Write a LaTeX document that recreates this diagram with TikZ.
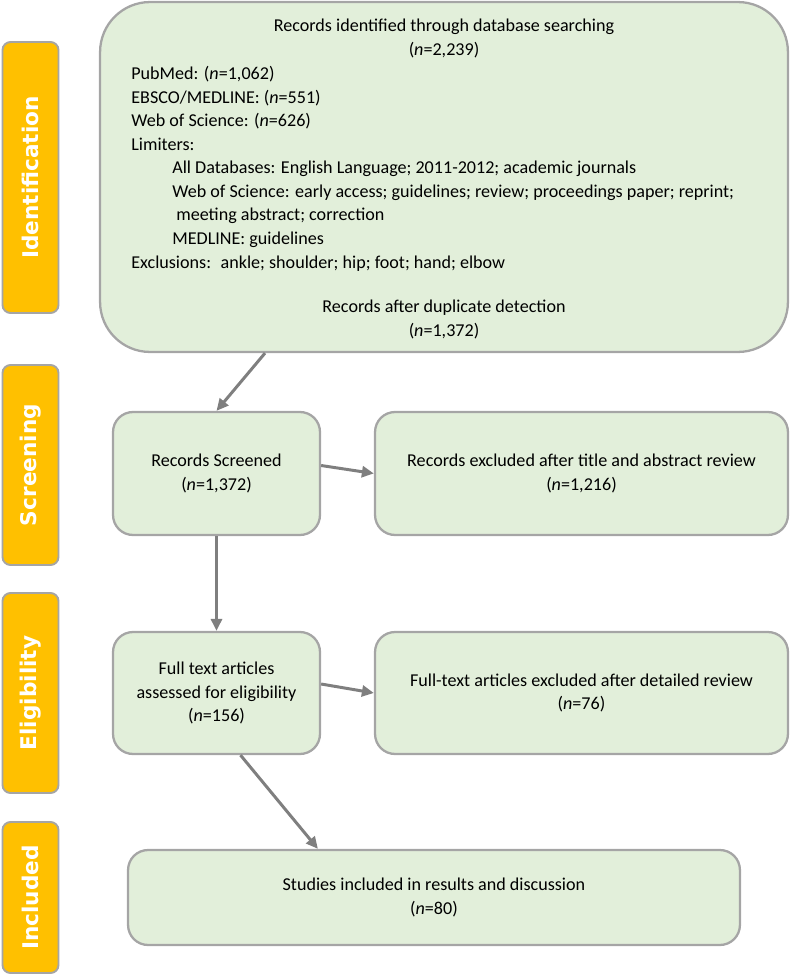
\documentclass[tikz,border=0pt]{standalone}
\usepackage{fontspec}
\setmainfont{Carlito}
\newfontfamily\phasefont{DejaVu Sans}
\usetikzlibrary{arrows.meta,calc,positioning}
\definecolor{boxgreen}{HTML}{E2EFDA}
\definecolor{phaseorange}{HTML}{FFC000}
\definecolor{edgegray}{HTML}{A5A5A5}
\definecolor{arrowgray}{HTML}{7F7F7F}
\tikzset{>={Triangle[length=0.24cm,width=0.22cm]}}

\begin{document}
\begin{tikzpicture}[x=0.02cm,y=-0.02cm,
    box/.style={draw=edgegray, line width=1.3pt, fill=boxgreen, rounded corners=0.4cm,
      align=center, font=\fontsize{10.3}{13.4}\selectfont},
    phase/.style={draw=edgegray, line width=1.1pt, fill=phaseorange, rounded corners=0.16cm,
      minimum height=1.12cm, rotate=90, text=white,
      font=\phasefont\bfseries\fontsize{12.3}{14}\selectfont},
    txt/.style={inner sep=0pt, font=\fontsize{10.3}{13.4}\selectfont},
    flow/.style={->, draw=arrowgray, line width=1.7pt}]
    \useasboundingbox (0,0) rectangle (790,977);
    %phases
    \node[phase, minimum width=5.42cm] (pident) at (30.5,177.5) {Identification};
    \node[phase, minimum width=4cm] (pscreen) at (30.5,465) {Screening};
    \node[phase, minimum width=4cm] (pelig) at (30.5,693) {Eligibility};
    \node[phase, minimum width=3.02cm] (pincl) at (30.5,897.5) {Included};
    %search box (base = last line)
    \node[box, rounded corners=1cm, minimum width=13.76cm, minimum height=7cm] (ident) at (444,177) {};
    \node[txt, align=center, anchor=base] (srchtitle) at (444,55)
      {Records identified through database searching\\(\textit{n}=2,239)};
    \node[txt, align=left, anchor=base west] (srchlist) at (131,268)
      {PubMed: (\textit{n}=1,062)\\
       EBSCO/MEDLINE: (\textit{n}=551)\\
       Web of Science: (\textit{n}=626)\\
       Limiters:\\
       \hspace*{0.82cm}All Databases: English Language; 2011-2012; academic journals\\
       \hspace*{0.82cm}Web of Science: early access; guidelines; review; proceedings paper; reprint;\\
       \hspace*{0.9cm}meeting abstract; correction\\
       \hspace*{0.82cm}MEDLINE: guidelines\\
       Exclusions:~ ankle; shoulder; hip; foot; hand; elbow};
    \node[txt, align=center, anchor=base] (dedup) at (444,336)
      {Records after duplicate detection\\(\textit{n}=1,372)};
    %flow boxes
    \node[box, minimum width=4.14cm, minimum height=2.46cm] (screen) at (216.5,473.5)
      {Records Screened\\(\textit{n}=1,372)};
    \node[box, minimum width=8.26cm, minimum height=2.46cm] (excl1) at (581.5,473.5)
      {Records excluded after title and abstract review\\(\textit{n}=1,216)};
    \node[box, minimum width=4.14cm, minimum height=2.44cm] (full) at (216.5,693)
      {Full text articles\\assessed for eligibility\\(\textit{n}=156)};
    \node[box, minimum width=8.26cm, minimum height=2.44cm] (excl2) at (581.5,693)
      {Full-text articles excluded after detailed review\\(\textit{n}=76)};
    \node[box, minimum width=12.24cm, minimum height=1.9cm] (incl) at (434,897.5)
      {Studies included in results and discussion\\(\textit{n}=80)};
    %arrows
    \draw[flow] ($(ident.south)+(-179,0)$) -- (screen.north);
    \draw[flow] ($(screen.east)+(0,-8)$) -- (excl1.west);
    \draw[flow] (screen.south) -- (full.north);
    \draw[flow] ($(full.east)+(0,-9)$) -- (excl2.west);
    \draw[flow] ($(full.south)+(24,0)$) -- ($(incl.north west)+(191,0)$);
\end{tikzpicture}
\end{document}
